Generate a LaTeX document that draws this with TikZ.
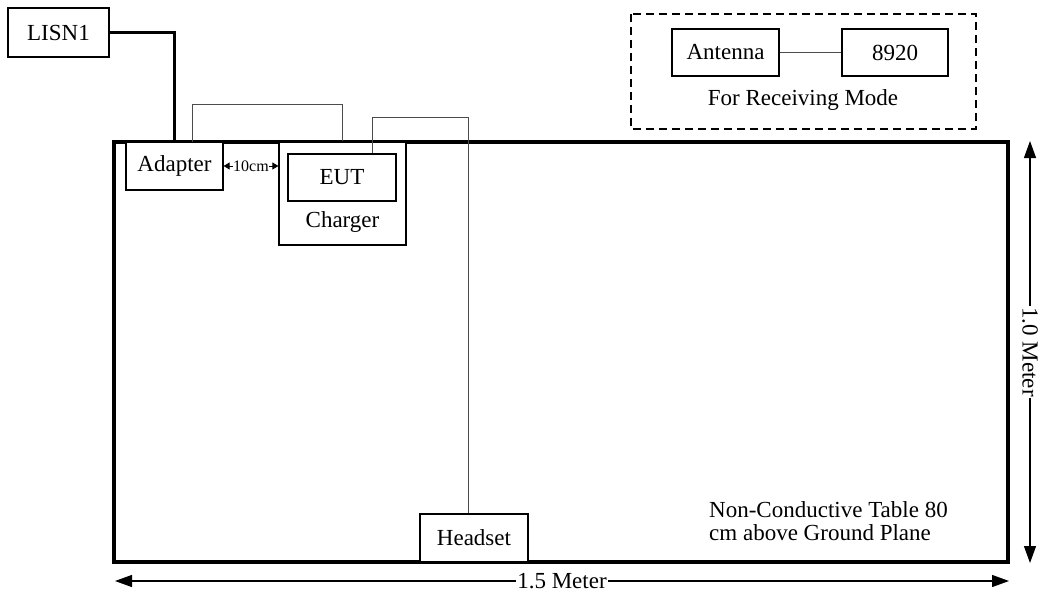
\documentclass[tikz,border=0pt]{standalone}
\usepackage{fontspec}
\setmainfont{Liberation Serif}
\usetikzlibrary{arrows.meta}
\tikzset{
  box/.style={draw=black, line width=1.2pt, rectangle, inner sep=0pt, font=\fontsize{23}{25}\selectfont},
  thincable/.style={draw=black!70, line width=1pt},
  thickcable/.style={draw=black, line width=3pt},
  tableedge/.style={draw=black, line width=3.5pt},
  dim/.style={line width=1.2pt, {Triangle[length=17pt,width=12pt]}-{Triangle[length=17pt,width=12pt]}},
  lbl/.style={font=\fontsize{23}{25}\selectfont, inner sep=1pt},
}
\begin{document}
\begin{tikzpicture}[x=1pt, y=-1pt]
\useasboundingbox (0,0) rectangle (1039,597);
% table
\draw[tableedge] (114,142) rectangle (1008,562);
% dashed receiving group
\draw[dashed, dash pattern=on 8pt off 5pt, line width=1.1pt] (631,14) rectangle (976,129);
% boxes
\node[box, fill=white, minimum width=101pt, minimum height=49pt] (lisn) at (58.5,32.5) {LISN1};
\node[box, fill=white, minimum width=97pt, minimum height=48pt] (adapter) at (174.5,166) {Adapter};
\node[box, fill=white, minimum width=127pt, minimum height=103pt] (charger) at (342.5,193.5) {};
\node[lbl] (chargerlbl) at (342.5,222) {Charger};
\node[box, minimum width=108pt, minimum height=47pt] (eut) at (342,177.5) {EUT};
\node[box, fill=white, minimum width=108pt, minimum height=48pt] (headset) at (474,538) {Headset};
\node[box, minimum width=107pt, minimum height=47pt] (antenna) at (725.5,52.5) {Antenna};
\node[box, minimum width=106pt, minimum height=47pt] (r8920) at (895,52.5) {8920};
\node[lbl] (recv) at (803,100) {For Receiving Mode};
\node[lbl, anchor=north west, align=left, font=\fontsize{23}{23}\selectfont] (note) at (708,500) {Non-Conductive Table 80\\cm above Ground Plane};
% cables
\draw[thickcable] (lisn.east) -| (adapter.north);
\coordinate (c1) at (192,104);
\draw[thincable] (192,142) -- (c1) -| (charger.north);
\coordinate (c2) at (468,117);
\draw[thincable] ([xshift=30pt]eut.north) |- (c2) -- (c2 |- headset.north);
\draw[thincable] (antenna.east) -- (r8920.west);
% 10cm
\draw[line width=0.8pt, {Triangle[length=6pt,width=7pt]}-{Triangle[length=6pt,width=7pt]}] (adapter.east) -- (adapter.east -| charger.west)
  node[midway, fill=white, inner sep=0.3pt, font=\fontsize{16}{17}\selectfont] {10cm};
% dimensions
\coordinate (h1) at (115,581);
\coordinate (h2) at (1009,581);
\draw[dim] (h1) -- (h2) node[midway, fill=white, lbl, inner sep=1pt] {1.5 Meter};
\coordinate (v1) at (1030,141);
\coordinate (v2) at (1030,563);
\draw[dim] (v1) -- (v2) node[midway, fill=white, lbl, rotate=-90, inner sep=1pt] {1.0 Meter};
\end{tikzpicture}
\end{document}
